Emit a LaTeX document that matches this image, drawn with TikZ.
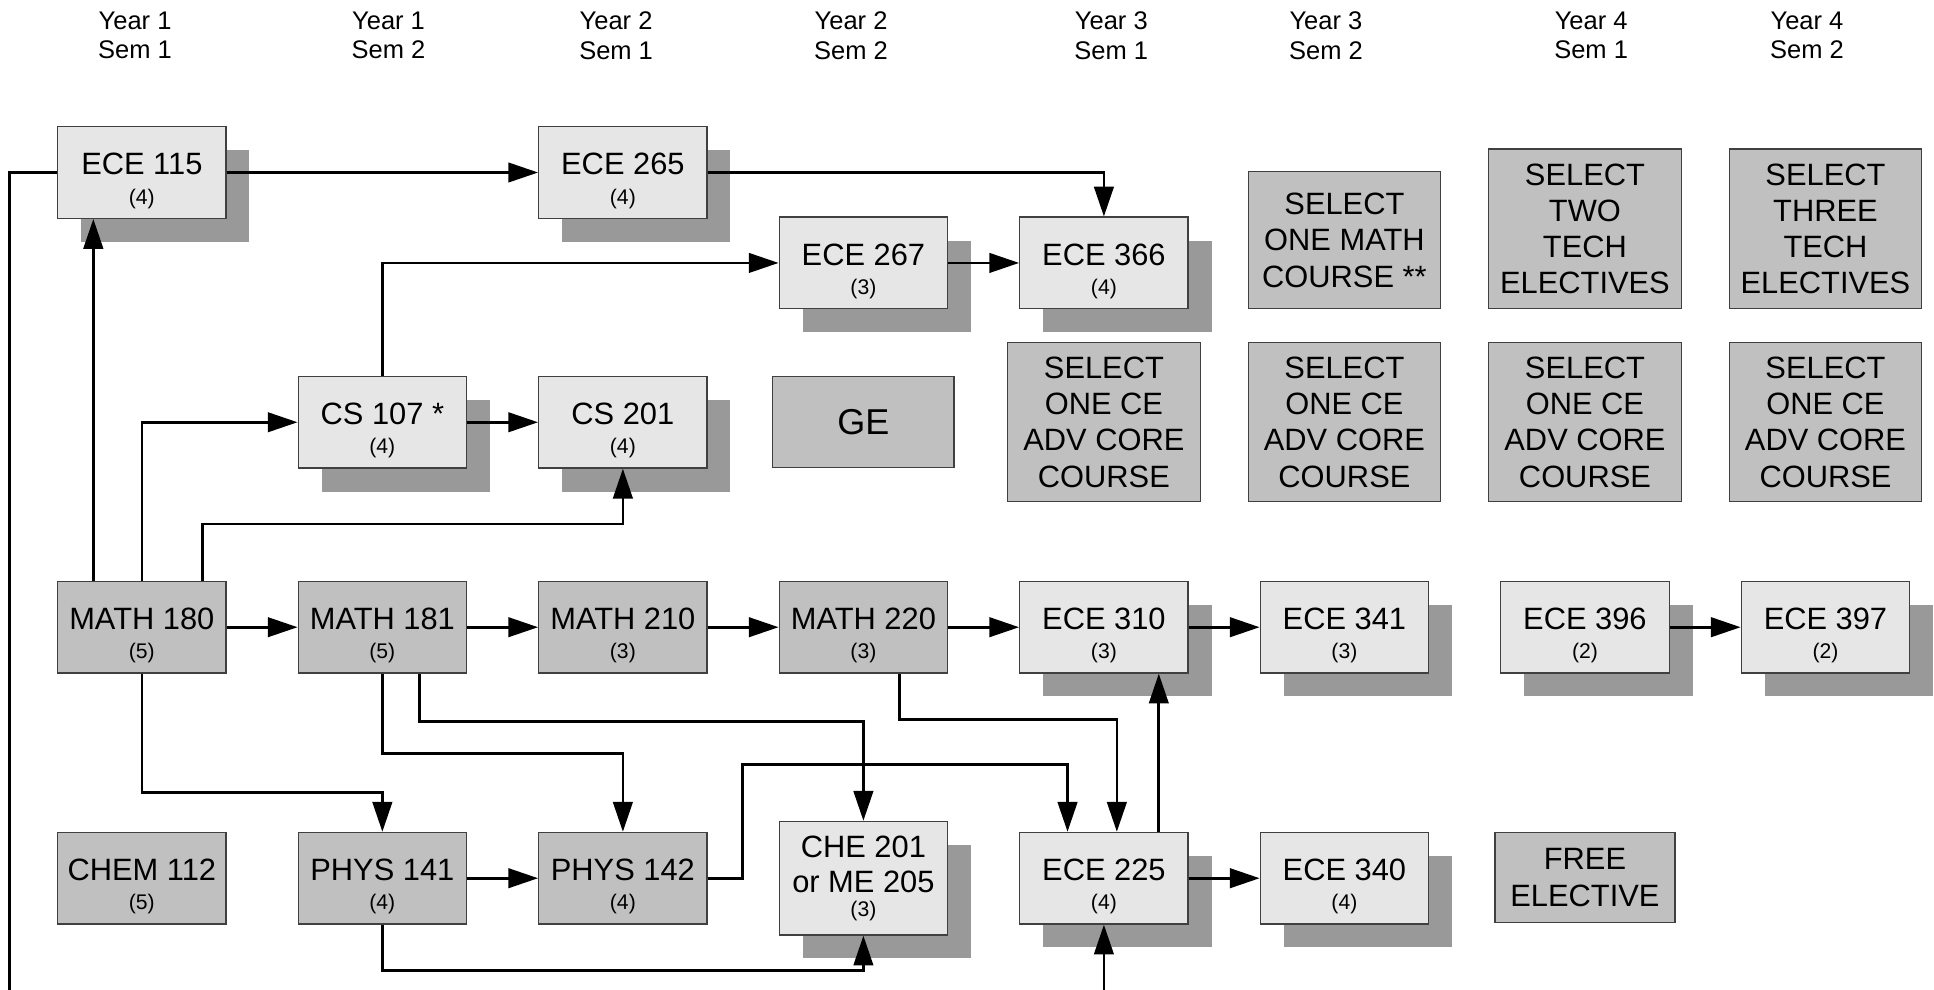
\documentclass[tikz,border=0pt]{standalone}
\usepackage{fontspec}
\setmainfont{Liberation Sans}
\usetikzlibrary{arrows.meta,positioning,shadows}

\definecolor{boxlight}{RGB}{230,230,230}
\definecolor{boxdark}{RGB}{192,192,192}
\definecolor{boxshade}{RGB}{153,153,153}
\definecolor{boxline}{RGB}{64,64,64}

\newcommand{\credit}{\fontsize{10.3}{11}\selectfont}
\newcommand{\course}[2]{\rule{0pt}{18.6pt}#1\\[-3.4pt]{\credit(#2)}}

\begin{document}
\begin{tikzpicture}[
  x=0.6pt, y=0.6pt,
  font=\fontsize{15}{17.6}\selectfont,
  >={Triangle[length=14.5pt, width=9.5pt]},
  node distance=34.5pt,
  course/.style={draw=boxline, line width=0.6pt, align=center, inner sep=2pt,
    minimum width=81.9pt, minimum height=44.6pt},
  core/.style={course, fill=boxlight,
    drop shadow={shadow xshift=11.4pt, shadow yshift=-11.4pt, fill=boxshade, opacity=1}},
  req/.style={course, fill=boxdark},
  choice/.style={req, minimum width=93.6pt},
  sem/.style={align=center, font=\fontsize{12.4}{14.3}\selectfont},
  link/.style={->, line width=1.3pt},
]
\useasboundingbox (0,0) rectangle (1568,-802);
\clip (0,0) rectangle (1568,-802);

% semester headings
\node[sem] (y1s1) at (109.5,-28.8) {Year 1\\Sem 1};
\node[sem] (y1s2) at (315,-28.8) {Year 1\\Sem 2};
\node[sem] (y2s1) at (499.5,-28.8) {Year 2\\Sem 1};
\node[sem] (y2s2) at (690,-28.8) {Year 2\\Sem 2};
\node[sem] (y3s1) at (901,-28.8) {Year 3\\Sem 1};
\node[sem] (y3s2) at (1075,-28.8) {Year 3\\Sem 2};
\node[sem] (y4s1) at (1290,-28.8) {Year 4\\Sem 1};
\node[sem] (y4s2) at (1465,-28.8) {Year 4\\Sem 2};

% math row
\node[req] (math180) at (115,-508.5) {\course{MATH 180}{5}};
\node[req, right=of math180] (math181) {\course{MATH 181}{5}};
\node[req, right=of math181] (math210) {\course{MATH 210}{3}};
\node[req, right=of math210] (math220) {\course{MATH 220}{3}};
\node[core, right=of math220] (ece310) {\course{ECE 310}{3}};
\node[core, right=of ece310] (ece341) {\course{ECE 341}{3}};
\node[core, right=of ece341] (ece396) {\course{ECE 396}{2}};
\node[core, right=of ece396] (ece397) {\course{ECE 397}{2}};

% bottom row
\node[req, below=76.9pt of math180] (chem112) {\course{CHEM 112}{5}};
\node[req, below=76.9pt of math181] (phys141) {\course{PHYS 141}{4}};
\node[req, below=76.9pt of math210] (phys142) {\course{PHYS 142}{4}};
\node[core, minimum height=55.3pt] (che201) at (math220 |- phys142) {CHE 201\\[-0.6pt]or ME 205\\[-6pt]{\credit(3)}};
\node[core, below=76.9pt of ece310] (ece225) {\course{ECE 225}{4}};
\node[core, below=76.9pt of ece341] (ece340) {\course{ECE 340}{4}};
\node[req, minimum width=87.6pt, minimum height=44pt, below=76.9pt of ece396] (free) {FREE\\[0.4pt]ELECTIVE};

% cs row and core choices
\node[core, above=54.5pt of math181] (cs107) {\course{CS 107 *}{4}};
\node[core, above=54.5pt of math210] (cs201) {\course{CS 201}{4}};
\node[req, minimum width=88.2pt, minimum height=44.2pt, font=\fontsize{17.5}{20}\selectfont] (ge) at (math220 |- cs201) {GE};
\node[choice, minimum height=77.3pt] (adv1) at (ece310 |- cs201) {SELECT\\ONE CE\\ADV CORE\\COURSE};
\node[choice, minimum height=77.3pt] (adv2) at (ece341 |- cs201) {SELECT\\ONE CE\\ADV CORE\\COURSE};
\node[choice, minimum height=77.3pt] (adv3) at (ece396 |- cs201) {SELECT\\ONE CE\\ADV CORE\\COURSE};
\node[choice, minimum height=77.3pt] (adv4) at (ece397 |- cs201) {SELECT\\ONE CE\\ADV CORE\\COURSE};

% upper rows
\node[core, above=32.5pt of ge] (ece267) {\course{ECE 267}{3}};
\node[core, right=of ece267] (ece366) {\course{ECE 366}{4}};
\node[core] (ece115) at (115,-139.85) {\course{ECE 115}{4}};
\node[core] (ece265) at (math210 |- ece115) {\course{ECE 265}{4}};
\node[choice, minimum height=66.6pt, anchor=south] (mathsel) at (ece341 |- ece366.south) {SELECT\\ONE MATH\\COURSE **};
\node[choice, minimum height=77.7pt, anchor=south] (tech2) at (ece396 |- ece366.south) {SELECT\\TWO\\TECH\\ELECTIVES};
\node[choice, minimum height=77.7pt, anchor=south] (tech3) at (ece397 |- ece366.south) {SELECT\\THREE\\TECH\\ELECTIVES};

% prerequisites
\draw[link] (ece115) -- (ece265);
\draw[link] (ece265) -| (ece366);
\draw[link] (ece267) -- (ece366);
\draw[link] (cs107) |- (ece267);
\draw[link] (cs107) -- (cs201);
\draw[link] ([xshift=-23.6pt]math180.north) -- ([xshift=-23.6pt]ece115.south);
\draw[link] (math180) |- (cs107);
\draw[link] ([xshift=29.4pt]math180.north) -- ++(0,46) -| (cs201);
\draw[link] (math180) -- (math181);
\draw[link] (math181) -- (math210);
\draw[link] (math210) -- (math220);
\draw[link] (math220) -- (ece310);
\draw[link] (ece310) -- (ece341);
\draw[link] (ece396) -- (ece397);
\draw[link] (math180.south) -- ++(0,-96.6) -| (phys141);
\draw[link] (math181.south) -- ++(0,-64.6) -| (phys142);
\draw[link] ([xshift=18pt]math181.south) -- ++(0,-39) -| (che201);
\draw[link] ([xshift=17.6pt]math220.south) -- ++(0,-37) -| ([xshift=6.3pt]ece225.north);
\draw[link] (phys142.east) -- ++(28.5,0) -- ++(0,92.3) -| ([xshift=-17.7pt]ece225.north);
\draw[link] ([xshift=26.7pt]ece225.north) -- ([xshift=26.7pt]ece310.south);
\draw[link] (ece225) -- (ece340);
\draw[link] (phys141) -- (phys142);
\draw[link] (phys141.south) -- ++(0,-37) -| (che201);
\coordinate (offpage) at (7.5,-840);
\draw[link] (ece115) -| (offpage) -| (ece225);
\end{tikzpicture}
\end{document}
